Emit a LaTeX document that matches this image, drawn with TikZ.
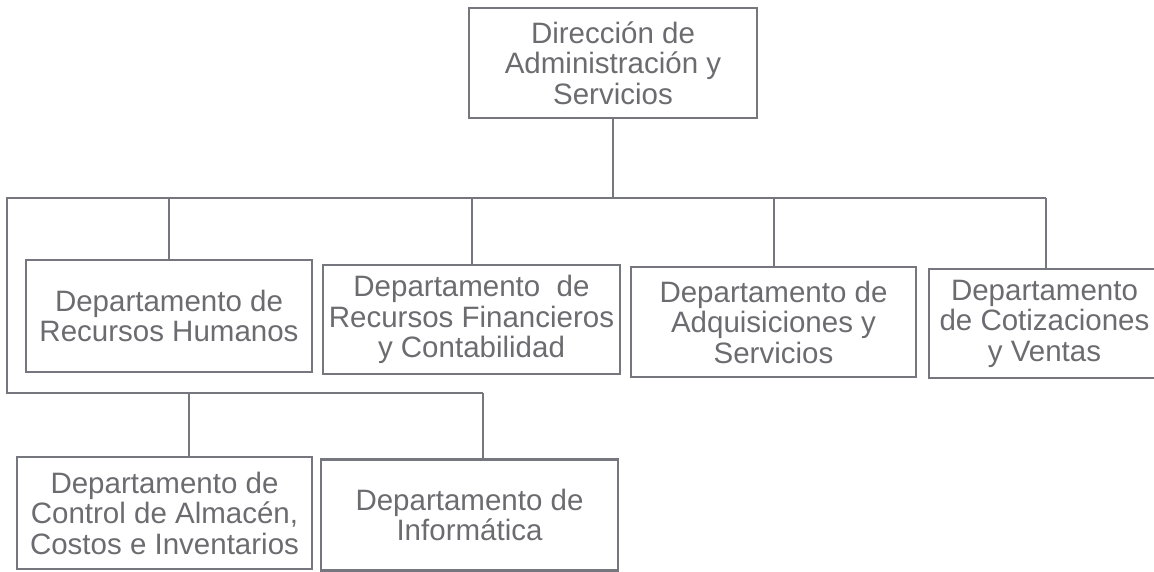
\documentclass[tikz,border=0pt]{standalone}
\usepackage{fontspec}
\setmainfont{Liberation Sans}
\definecolor{txtgray}{RGB}{108,108,112}
\definecolor{linegray}{RGB}{118,118,126}
\begin{document}
\begin{tikzpicture}[x=1pt,y=-1pt,
  orgbox/.style={draw=linegray, line width=2.6pt, inner sep=0pt, align=center,
    text=txtgray, font=\fontsize{29.5}{30.5}\selectfont},
  link/.style={draw=linegray, line width=2pt}]
\useasboundingbox (0,0) rectangle (1154,571);
\node[orgbox, minimum width=288, minimum height=110] (top) at (613,63) {\raisebox{-6pt}{}Dirección de\\Administración y\\Servicios};
\node[orgbox, minimum width=286, minimum height=112] (b1) at (169,316) {Departamento de\\Recursos Humanos};
\node[orgbox, minimum width=297, minimum height=109] (b2) at (471.5,319.5) {Departamento\ \ de\\Recursos Financieros\\y Contabilidad};
\node[orgbox, minimum width=285, minimum height=110] (b3) at (773.5,322) {Departamento de\\Adquisiciones y\\Servicios};
\node[orgbox, minimum width=231, minimum height=109] (b4) at (1044.5,323.5) {Departamento\\de Cotizaciones\\y Ventas};
\node[orgbox, minimum width=295, minimum height=112] (b5) at (164.5,513) {Departamento de\\Control de Almacén,\\Costos e Inventarios};
\node[orgbox, minimum width=297, minimum height=111] (b6) at (469.5,515) {Departamento de\\Informática};
\coordinate (hL) at (7,198);
\coordinate (hR) at (1046,198);
\coordinate (bL) at (7,393);
\coordinate (bR) at (483,393);
\coordinate (c5) at (189,393);
\draw[link] (top.south) -- (top.south |- hL);
\draw[link] (hR) -- (hL) -- (bL) -- (bR);
\draw[link] (hR) -- (hR |- b4.north);
\draw[link] (b1.north |- hL) -- (b1.north);
\draw[link] (b2.north |- hL) -- (b2.north);
\draw[link] (b3.north |- hL) -- (b3.north);
\draw[link] (c5) -- (c5 |- b5.north);
\draw[link] (bR) -- (bR |- b6.north);
\end{tikzpicture}
\end{document}
